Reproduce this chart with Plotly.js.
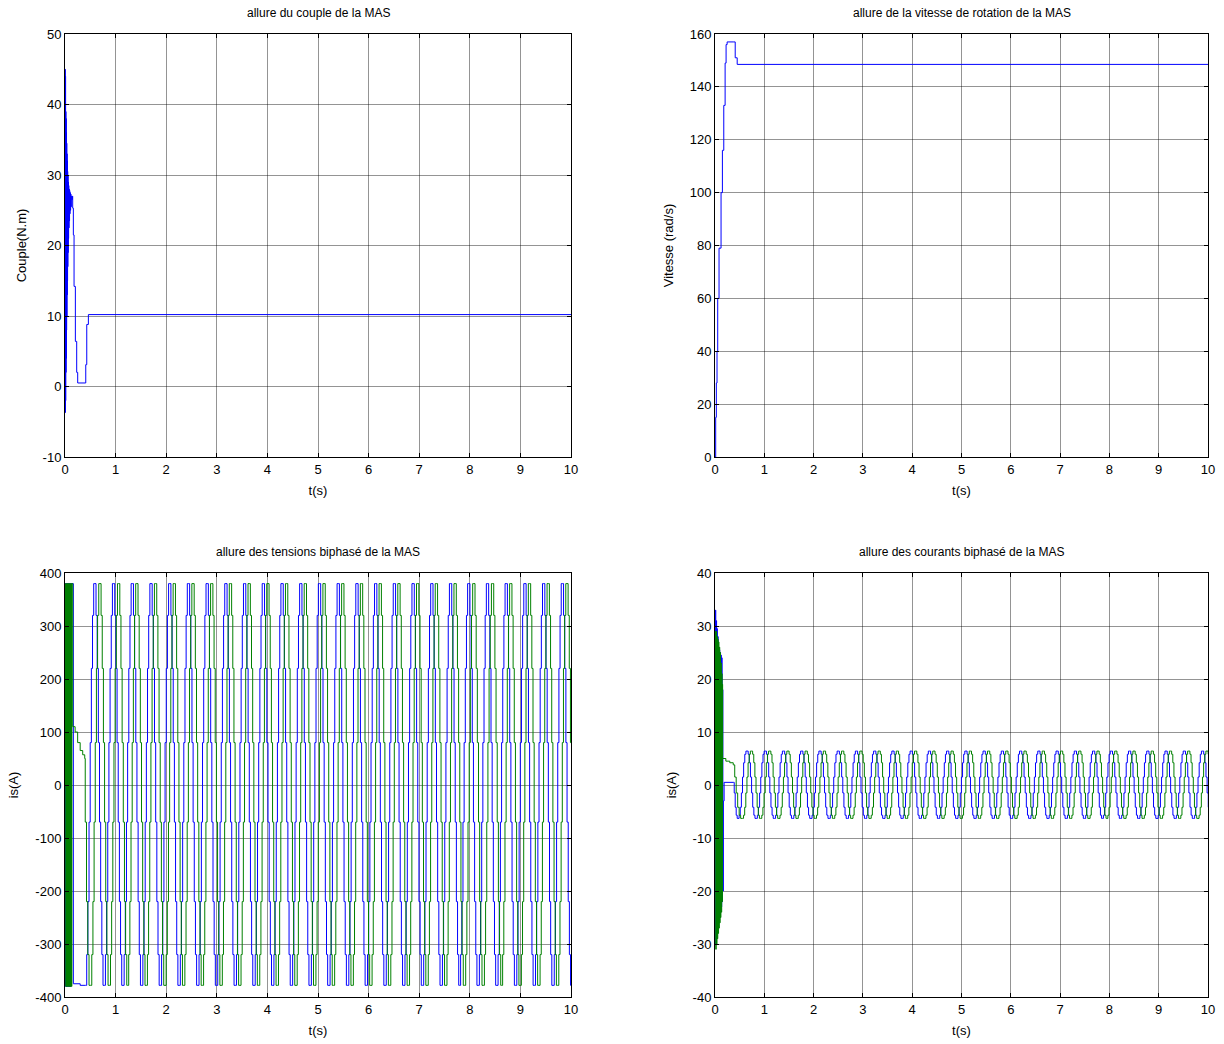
<!DOCTYPE html>
<html>
<head>
<meta charset="utf-8">
<script src="https://cdn.plot.ly/plotly-3.0.1.min.js"></script>
<style>html,body{margin:0;padding:0;background:#fff;}#chart{width:1224px;height:1044px;}</style>
</head>
<body>
<div id="chart"></div>
<script>
// ---------- Couple (torque) ----------
const torqueT = [0,0.003,0.006,0.009,0.012,0.015,0.018,0.021,0.024,0.027,0.030,0.033,0.036,0.039,0.042,0.045,0.048,0.051,0.054,0.057,0.060,0.064,0.068,0.072,0.076,0.080,0.085,0.090,0.095,0.100,0.106,0.112,0.118,0.125,0.135,0.145,0.152,0.165,0.179,0.205,0.231,0.251,0.397,0.410,0.430,0.462,10];
const torqueV = [0,45,-3.7,44,-2,39,2,38,4,36,8,34.5,10,33,13,32,15,30.5,17,30,19,29,21,28.5,22.5,28,23.5,27.8,24.5,27.5,25,27.3,25.5,27,26.5,27,25.3,21.5,14.2,6.4,2,0.5,0.5,3.1,8.8,10.2,10.2];

// ---------- Vitesse (speed) ----------
const speedT = [0,0.005,0.014,0.027,0.041,0.055,0.082,0.123,0.150,0.178,0.205,0.225,0.246,0.383,0.410,0.450,10];
const speedV = [0,0,15,28,40,60,79,100,116,133,149,156,157,157,151,148.5,148.5];

// ---------- Tensions biphasées ----------
// start-up transient (explicit points)
const vAlphaStartT = [0,0.006,0.012,0.018,0.024,0.030,0.036,0.042,0.048,0.054,0.060,0.066,0.072,0.078,0.084,0.090,0.096,0.102,0.108,0.114,0.120,0.165,0.300];
const vAlphaStartV = [0,380,-380,380,-380,380,-380,380,-380,380,-380,380,-380,380,-380,380,-380,380,-380,380,380,-375,-378];
const vBetaStartT = [0,0.008,0.016,0.024,0.032,0.040,0.048,0.056,0.064,0.072,0.080,0.088,0.096,0.104,0.112,0.120,0.128,0.136,0.144,0.153,0.200,0.250,0.300,0.350,0.390,0.400,0.425,0.450,0.475];
const vBetaStartV = [0,380,-380,380,-380,380,-380,380,-380,380,-380,380,-380,380,-380,380,-380,380,380,110,100,80,65,57,50,-70,-220,-320,-378];
// peak times of each steady-state cycle (s)
const vAlphaPeaks = [0.59,0.96,1.33,1.70,2.07,2.44,2.81,3.18,3.55,3.92,4.29,4.66,5.03,5.40,5.77,6.14,6.51,6.88,7.25,7.62,7.98,8.35,8.72,9.09,9.46,9.83,10.20];
const vBetaPeaks  = [0.69,1.06,1.42,1.79,2.16,2.53,2.90,3.27,3.64,4.01,4.38,4.75,5.12,5.49,5.86,6.23,6.60,6.97,7.34,7.71,8.08,8.45,8.81,9.18,9.55,9.92,10.29];
// stepped shape of one cycle around its peak: time offset (s) and level (V)
const cycleOffsets = [-0.184,-0.161,-0.138,-0.115,-0.092,-0.069,-0.046,-0.023,0,0.023,0.046,0.069,0.092,0.115,0.138,0.161];
const vCycleLevels = [-378,-320,-220,-70,80,220,320,380,380,320,220,80,-70,-220,-320,-378];

// ---------- Courants biphasés ----------
const iAlphaStartT = [0,0.008,0.016,0.024,0.032,0.040,0.048,0.056,0.064,0.072,0.080,0.088,0.096,0.104,0.112,0.120,0.128,0.136,0.144,0.152,0.160,0.170,0.185,0.380,0.390,0.410,0.430,0.450];
const iAlphaStartV = [0,33,-30,31,-29,29.5,-28,28,-27,26,-26,25.5,-25,25,-24,24.5,-23,24,-22,18,-20,-3,0.5,0.5,-1.5,-4.2,-5.7,-6.3];
const iBetaStartT = [0,0.008,0.016,0.024,0.032,0.040,0.048,0.056,0.064,0.072,0.080,0.088,0.096,0.104,0.112,0.120,0.128,0.136,0.144,0.150,0.155,0.220,0.300,0.370,0.400,0.430,0.460,0.490,0.520];
const iBetaStartV = [0,29,-31,29,-30,28,-29,27.5,-28,27,-27,26,-26,25,-25,23,-24,21,-22,19,5,4.5,4.2,3.8,1.5,-1.5,-4.2,-5.7,-6.3];
const iAlphaPeaks = [0.65,1.02,1.39,1.76,2.13,2.50,2.87,3.24,3.61,3.98,4.35,4.72,5.09,5.46,5.83,6.20,6.57,6.94,7.31,7.68,8.04,8.41,8.78,9.15,9.52,9.89,10.26];
const iBetaPeaks  = [0.74,1.11,1.48,1.85,2.22,2.59,2.96,3.33,3.70,4.07,4.44,4.81,5.18,5.55,5.92,6.29,6.66,7.03,7.40,7.77,8.13,8.50,8.87,9.24,9.61,9.98,10.35];
const iCycleLevels = [-6.3,-5.7,-4.2,-1.5,1.5,4.2,5.8,6.4,6.4,5.8,4.2,1.5,-1.5,-4.2,-5.7,-6.3];

// ---------- text ----------
const titles = ['allure du couple de la MAS','allure de la vitesse de rotation de la MAS','allure des tensions biphasé de la MAS','allure des courants biphasé de la MAS'];
const xTitle = 't(s)';
const yTitles = ['Couple(N.m)','Vitesse (rad/s)','is(A)','is(A)'];
const xTicks = [0,1,2,3,4,5,6,7,8,9,10];
const yTicksTorque = [-10,0,10,20,30,40,50];
const yTicksSpeed = [0,20,40,60,80,100,120,140,160];
const yTicksVolt = [-400,-300,-200,-100,0,100,200,300,400];
const yTicksCurr = [-40,-30,-20,-10,0,10,20,30,40];

function buildSeries(startT, startV, peaks, levels){
  const t = startT.slice(), v = startV.slice();
  peaks.forEach(p => { cycleOffsets.forEach((o,i) => { t.push(+(p+o).toFixed(4)); v.push(levels[i]); }); });
  return {t, v};
}
const vA = buildSeries(vAlphaStartT, vAlphaStartV, vAlphaPeaks, vCycleLevels);
const vB = buildSeries(vBetaStartT, vBetaStartV, vBetaPeaks, vCycleLevels);
const iA = buildSeries(iAlphaStartT, iAlphaStartV, iAlphaPeaks, iCycleLevels);
const iB = buildSeries(iBetaStartT, iBetaStartV, iBetaPeaks, iCycleLevels);

const BLUE = '#0000ff', GREEN = '#008000';
const ln = (c) => ({color:c, width:1, shape:'hv'});
const traces = [
  {x:torqueT, y:torqueV, xaxis:'x', yaxis:'y', mode:'lines', line:ln(BLUE), showlegend:false},
  {x:speedT, y:speedV, xaxis:'x2', yaxis:'y2', mode:'lines', line:ln(BLUE), showlegend:false},
  {x:vA.t, y:vA.v, xaxis:'x3', yaxis:'y3', mode:'lines', line:ln(BLUE), showlegend:false},
  {x:vB.t, y:vB.v, xaxis:'x3', yaxis:'y3', mode:'lines', line:ln(GREEN), showlegend:false},
  {x:iA.t, y:iA.v, xaxis:'x4', yaxis:'y4', mode:'lines', line:ln(BLUE), showlegend:false},
  {x:iB.t, y:iB.v, xaxis:'x4', yaxis:'y4', mode:'lines', line:ln(GREEN), showlegend:false}
];

const W = 1224, H = 1044;
const FONT = 'Liberation Sans, Arial, Helvetica, sans-serif';
const colX = [[65,571],[715,1208]];
const rowY = [[34,457],[573,997]];
const dx = (c) => [colX[c][0]/W, colX[c][1]/W];
const dy = (r) => [1-rowY[r][1]/H, 1-rowY[r][0]/H];
const lbl = (arr) => arr.map(v => String(v)); // plain hyphen minus

const common = {showline:true, linecolor:'#000', linewidth:1, mirror:'allticks',
  ticks:'inside', ticklen:4, tickcolor:'#000', showgrid:true, gridcolor:'rgba(0,0,0,0.42)', gridwidth:1,
  zeroline:false, tickmode:'array', tickfont:{family:FONT, size:13, color:'#000'}};

function xax(c, anchor){
  return Object.assign({}, common, {domain:dx(c), anchor:anchor, range:[0,10],
    tickvals:xTicks, ticktext:lbl(xTicks),
    title:{text:xTitle, font:{family:FONT, size:13, color:'#000'}, standoff:10}});
}
function yax(r, anchor, range, ticks, ti){
  return Object.assign({}, common, {domain:dy(r), anchor:anchor, range:range,
    tickvals:ticks, ticktext:lbl(ticks),
    title:{text:yTitles[ti], font:{family:FONT, size:13, color:'#000'}, standoff:13}});
}

const layout = {
  width:W, height:H, margin:{l:0,r:0,t:0,b:0}, paper_bgcolor:'#fff', plot_bgcolor:'#fff',
  showlegend:false, font:{family:FONT, size:12, color:'#000'},
  xaxis: xax(0,'y'),  yaxis: yax(0,'x',[-10,50],yTicksTorque,0),
  xaxis2: xax(1,'y2'), yaxis2: Object.assign(yax(0,'x2',[0,160],yTicksSpeed,1), {domain:dy(0)}),
  xaxis3: xax(0,'y3'), yaxis3: yax(1,'x3',[-400,400],yTicksVolt,2),
  xaxis4: xax(1,'y4'), yaxis4: yax(1,'x4',[-40,40],yTicksCurr,3),
  annotations: [[0,0],[1,0],[0,1],[1,1]].map((cr,i) => ({
    text:titles[i], xref:'paper', yref:'paper', showarrow:false,
    x:(colX[cr[0]][0]+colX[cr[0]][1])/2/W, y:1-(rowY[cr[1]][0]-21)/H,
    xanchor:'center', yanchor:'middle', font:{family:FONT, size:12, color:'#000'}
  }))
};

Plotly.newPlot('chart', traces, layout, {displayModeBar:false, staticPlot:true});
</script>
</body>
</html>
